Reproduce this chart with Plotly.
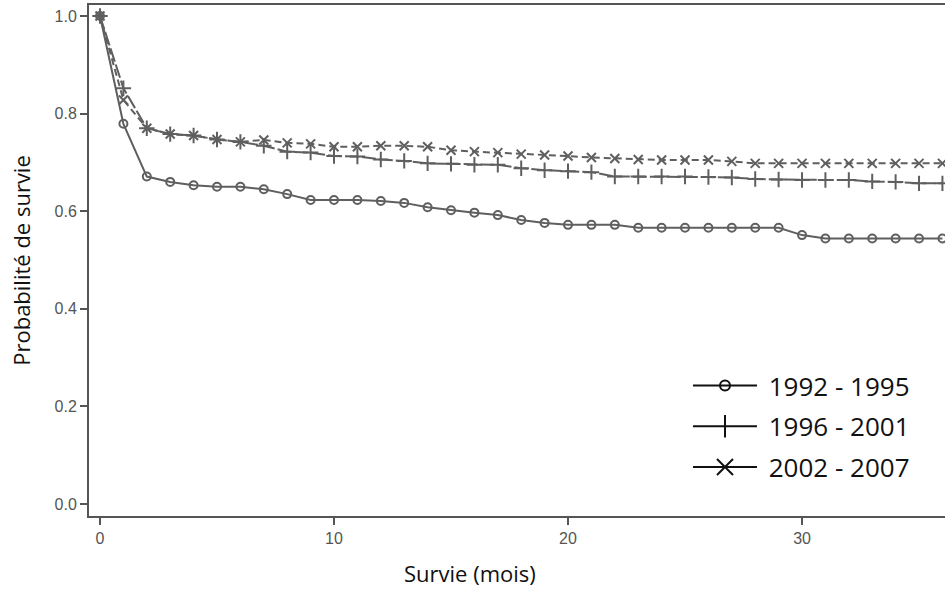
import plotly.graph_objects as go

months = list(range(0, 37))

s_1992_1995 = [1.0, 0.779, 0.671, 0.660, 0.653, 0.650, 0.650, 0.645, 0.635, 0.623,
               0.623, 0.623, 0.621, 0.617, 0.608, 0.602, 0.597, 0.592, 0.582, 0.576,
               0.572, 0.572, 0.572, 0.566, 0.566, 0.566, 0.566, 0.566, 0.566, 0.566,
               0.551, 0.544, 0.544, 0.544, 0.544, 0.544, 0.544]

s_1996_2001 = [1.0, 0.852, 0.770, 0.758, 0.755, 0.747, 0.742, 0.734, 0.722, 0.720,
               0.713, 0.712, 0.706, 0.703, 0.698, 0.697, 0.695, 0.695, 0.688, 0.684,
               0.682, 0.680, 0.671, 0.671, 0.671, 0.671, 0.670, 0.669, 0.666, 0.665,
               0.664, 0.664, 0.664, 0.661, 0.660, 0.657, 0.657]

s_2002_2007 = [1.0, 0.828, 0.770, 0.758, 0.755, 0.747, 0.742, 0.746, 0.740, 0.738,
               0.732, 0.732, 0.734, 0.734, 0.732, 0.725, 0.722, 0.720, 0.717, 0.715,
               0.713, 0.710, 0.708, 0.706, 0.705, 0.705, 0.705, 0.702, 0.698, 0.698,
               0.698, 0.698, 0.698, 0.698, 0.698, 0.698, 0.698]

series_names = ["1992 - 1995", "1996 - 2001", "2002 - 2007"]
y_ticks = [0.0, 0.2, 0.4, 0.6, 0.8, 1.0]
x_ticks = [0, 10, 20, 30]

LINE = "#5f5f5f"
TEXTFONT = "Open Sans, Lato, sans-serif"
TICKFONT = "Liberation Sans, Arial, sans-serif"

styles = [
    dict(symbol="circle-open", size=8, dash="solid"),
    dict(symbol="cross-thin-open", size=11, dash="14px,3px"),
    dict(symbol="x-thin-open", size=9, dash="7px,4px"),
]

fig = go.Figure()
for name, vals, st in zip(series_names, [s_1992_1995, s_1996_2001, s_2002_2007], styles):
    fig.add_trace(go.Scatter(
        x=months, y=vals, mode="lines+markers", name=name, showlegend=False,
        line=dict(color=LINE, width=2, dash=st["dash"]),
        marker=dict(symbol=st["symbol"], size=st["size"],
                    line=dict(color=LINE, width=2), color=LINE),
        cliponaxis=False,
    ))

# legend samples (solid black, as in the reference legend)
legend_sym = [("circle-open", 10), ("line-ns-open", 22), ("x-thin-open", 16)]
for i, (name, (sym, sz)) in enumerate(zip(series_names, legend_sym)):
    fig.add_trace(go.Scatter(
        x=[None], y=[None], mode="lines+markers", name="\u00a0" + name, legendgroup=f"g{i}",
        line=dict(color="#111111", width=2),
        marker=dict(symbol=sym, size=sz, color="#111111",
                    line=dict(color="#111111", width=2)),
    ))

fig.update_layout(
    width=945, height=590,
    margin=dict(l=89, r=0, t=5, b=74),
    plot_bgcolor="white", paper_bgcolor="white",
    showlegend=True,
    legend=dict(
        x=(688 - 89) / (945 - 89), y=(516 - 362) / (516 - 5), xanchor="left", yanchor="top",
        font=dict(family=TEXTFONT, size=26, color="#111111"),
        itemwidth=64, tracegroupgap=4, bgcolor="rgba(0,0,0,0)",
        itemsizing="trace",
    ),
    xaxis=dict(
        range=[-0.47, 36.11], tickvals=x_ticks, ticktext=[str(v) for v in x_ticks],
        showgrid=False, zeroline=False,
        showline=True, linecolor="#555555", linewidth=2, mirror=True,
        ticks="outside", ticklen=7, tickwidth=1.5, tickcolor="#555555",
        tickfont=dict(family=TICKFONT, size=16, color="#555555"),
    ),
    yaxis=dict(
        range=[-0.0246, 1.0225], tickvals=y_ticks, ticktext=[f"{v:.1f}" for v in y_ticks],
        showgrid=False, zeroline=False,
        showline=True, linecolor="#555555", linewidth=2, mirror=False,
        ticks="outside", ticklen=7, tickwidth=1.5, tickcolor="#555555",
        tickfont=dict(family=TICKFONT, size=16, color="#555555"),
        title=dict(text="Probabilité de survie",
                   font=dict(family=TEXTFONT, size=22, color="#111111"), standoff=18),
    ),
    annotations=[dict(
        text="Survie (mois)", xref="paper", yref="paper",
        x=(470 - 89) / (945 - 89), y=-(573 - 516) / (516 - 5),
        xanchor="center", yanchor="middle", showarrow=False,
        font=dict(family=TEXTFONT, size=22, color="#111111"),
    )],
)

fig.write_html("out.html", config={"displayModeBar": False},
               post_script="document.body.style.margin='0';")
